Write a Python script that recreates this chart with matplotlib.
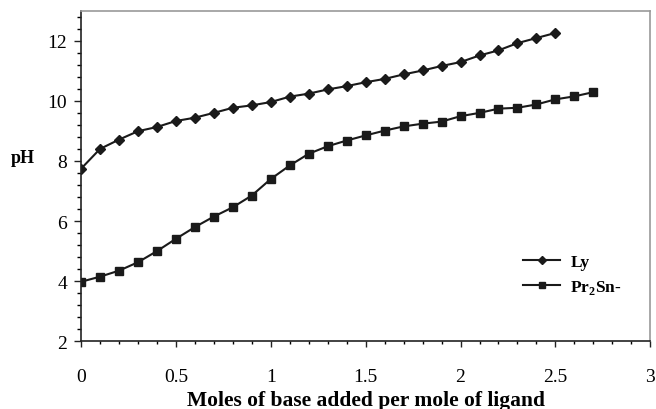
import numpy as np
import matplotlib
matplotlib.use("Agg")
import matplotlib.pyplot as plt
from matplotlib.ticker import MultipleLocator

plt.rcParams["font.family"] = ["Liberation Serif", "DejaVu Serif"]
plt.rcParams["mathtext.fontset"] = "custom"
plt.rcParams["mathtext.rm"] = "Liberation Serif"
plt.rcParams["mathtext.bf"] = "Liberation Serif:bold"

# Titration data: moles of base per mole of ligand vs pH
ly_base = [0.0, 0.1, 0.2, 0.3, 0.4, 0.5, 0.6, 0.7, 0.8, 0.9, 1.0, 1.1, 1.2,
           1.3, 1.4, 1.5, 1.6, 1.7, 1.8, 1.9, 2.0, 2.1, 2.2, 2.3, 2.4, 2.5]
ly_ph = [7.74, 8.40, 8.71, 8.99, 9.13, 9.33, 9.44, 9.60, 9.77, 9.85, 9.96,
         10.14, 10.24, 10.38, 10.49, 10.62, 10.73, 10.88, 11.01, 11.16,
         11.29, 11.51, 11.68, 11.92, 12.09, 12.26]

sn_base = [0.0, 0.1, 0.2, 0.3, 0.4, 0.5, 0.6, 0.7, 0.8, 0.9, 1.0, 1.1, 1.2,
           1.3, 1.4, 1.5, 1.6, 1.7, 1.8, 1.9, 2.0, 2.1, 2.2, 2.3, 2.4, 2.5,
           2.6, 2.7]
sn_ph = [3.98, 4.15, 4.35, 4.63, 5.00, 5.41, 5.80, 6.15, 6.46, 6.85, 7.40,
         7.85, 8.24, 8.49, 8.68, 8.85, 9.01, 9.15, 9.24, 9.31, 9.49, 9.60,
         9.74, 9.77, 9.88, 10.05, 10.15, 10.29]

fig = plt.figure(figsize=(6.56, 4.10), dpi=100)
ax = fig.add_axes([0.1235, 0.1651, 0.8678, 0.8064])

ax.plot(ly_base, ly_ph, color="#1a1a1a", linewidth=1.5, marker="D",
        markersize=5.2, label="Ly")
ax.plot(sn_base, sn_ph, color="#1a1a1a", linewidth=1.5, marker="s",
        markersize=6.2, label=r"Pr$_\mathbf{2}$Sn-")

ax.set_xlim(0, 3)
ax.set_ylim(2, 13)
ax.xaxis.set_major_locator(MultipleLocator(0.5))
ax.xaxis.set_minor_locator(MultipleLocator(0.1))
ax.yaxis.set_major_locator(MultipleLocator(2))
ax.yaxis.set_minor_locator(MultipleLocator(0.4))
ax.set_xticks([0, 0.5, 1, 1.5, 2, 2.5, 3])
ax.set_xticklabels(["0", "0.5", "1", "1.5", "2", "2.5", "3"])

ax.tick_params(axis="both", which="major", labelsize=14, color="#222222",
               width=1.0)
ax.tick_params(axis="x", which="major", length=4.5, pad=15)
ax.tick_params(axis="y", which="major", length=5, pad=5)
ax.tick_params(axis="x", which="minor", length=2.5, width=1.0)
ax.tick_params(axis="y", which="minor", length=3, width=1.0)

for side in ["left", "bottom"]:
    ax.spines[side].set_color("#222222")
    ax.spines[side].set_linewidth(1.2)
for side in ["top", "right"]:
    ax.spines[side].set_color("#9a9a9a")
    ax.spines[side].set_linewidth(1.2)

ax.set_xlabel("Moles of base added per mole of ligand", fontsize=15.5,
              fontweight="bold", labelpad=3)
ax.set_ylabel("pH", fontsize=13, fontweight="bold", rotation=0, va="center")
ax.yaxis.set_label_coords(-0.102, 0.555)

leg = ax.legend(loc="center left", bbox_to_anchor=(0.777, 0.2), frameon=False,
                prop={"weight": "bold", "size": 12.5}, handlelength=2.1,
                handletextpad=0.6, labelspacing=0.45, borderpad=0,
                borderaxespad=0, markerscale=0.8)

fig.savefig("out.png", dpi=100)
